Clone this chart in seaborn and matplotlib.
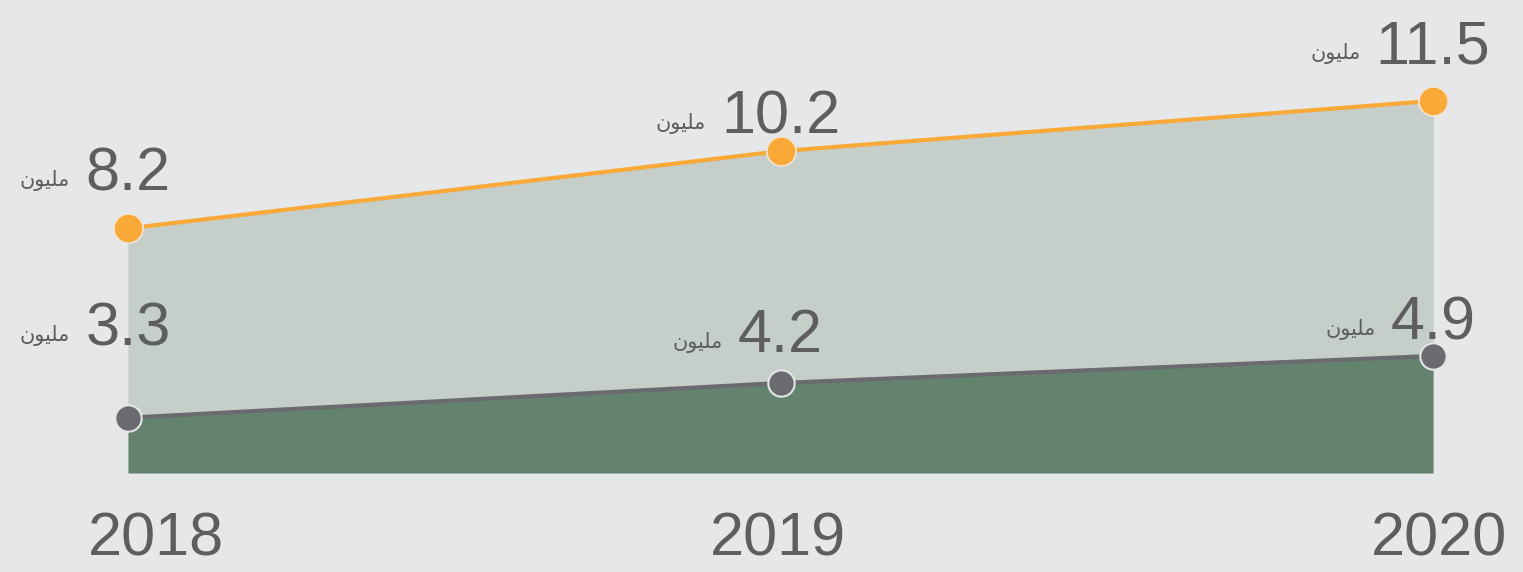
import numpy as np
import pandas as pd
import matplotlib
matplotlib.use("Agg")
import matplotlib.pyplot as plt
import matplotlib.transforms as mtransforms
import seaborn as sns

years = [2018, 2019, 2020]
upper = [8.2, 10.2, 11.5]   # orange series
lower = [3.3, 4.2, 4.9]     # grey series
unit = "ﻥﻮﻴﻠﻣ"              # "مليون" written in shaped, visual order

bg = "#e6e7e9"
orange = "#f8a937"
grey = "#6a6a70"
light_fill = "#c5cec9"
dark_fill = "#64836f"
txt = "#5e5e60"

# label lift above each point (points), picked by eye from the reference
upper_lift = [27, 13, 27]
lower_lift = [52, 22, 12]
year_shift = [20, -2, 4]

sns.set_theme(style="white")
plt.rcParams["font.family"] = ["Liberation Sans", "DejaVu Sans"]

df = pd.DataFrame({"year": years, "upper": upper, "lower": lower})

fig = plt.figure(figsize=(15.23, 5.72), dpi=100, facecolor=bg)
ax = fig.add_axes([0.084, 0.173, 0.857, 0.827])
ax.set_facecolor(bg)

floor = 1.87
ax.set_ylim(floor, 14.11)
ax.set_xlim(2018, 2020)

ax.fill_between(df["year"], df["lower"], df["upper"], color=light_fill, lw=0, zorder=1)
ax.fill_between(df["year"], floor, df["lower"], color=dark_fill, lw=0, zorder=1)

sns.lineplot(data=df, x="year", y="upper", color=orange, lw=3, marker="o",
             markersize=21, markeredgecolor="#f1e6d6", markeredgewidth=1.2,
             ax=ax, zorder=3, clip_on=False)
sns.lineplot(data=df, x="year", y="lower", color=grey, lw=3, marker="o",
             markersize=19, markeredgecolor="#e4e6e6", markeredgewidth=1.5,
             ax=ax, zorder=3, clip_on=False)

for series, lifts in [(upper, upper_lift), (lower, lower_lift)]:
    for x, v, dy in zip(years, series, lifts):
        t = ax.annotate(f"{v:g}", xy=(x, v), xytext=(0, dy), textcoords="offset points",
                        ha="center", va="baseline", fontsize=44, color=txt, zorder=4,
                        annotation_clip=False)
        ax.annotate(unit, xy=(0, 0), xycoords=t, xytext=(-11, 9), textcoords="offset points",
                    ha="right", va="bottom", fontsize=15, color=txt,
                    family=["DejaVu Sans"], zorder=4, annotation_clip=False)

ax.set_xticks(years)
ax.set_xticklabels([str(y) for y in years], fontsize=44, color=txt)
ax.set_yticks([])
ax.tick_params(axis="x", length=0, pad=28)
for lab, sh in zip(ax.get_xticklabels(), year_shift):
    lab.set_transform(lab.get_transform() +
                      mtransforms.ScaledTranslation(sh / 72, 0, fig.dpi_scale_trans))
ax.set_xlabel("")
ax.set_ylabel("")
for s in ax.spines.values():
    s.set_visible(False)

fig.savefig("out.png", dpi=100, facecolor=bg)
